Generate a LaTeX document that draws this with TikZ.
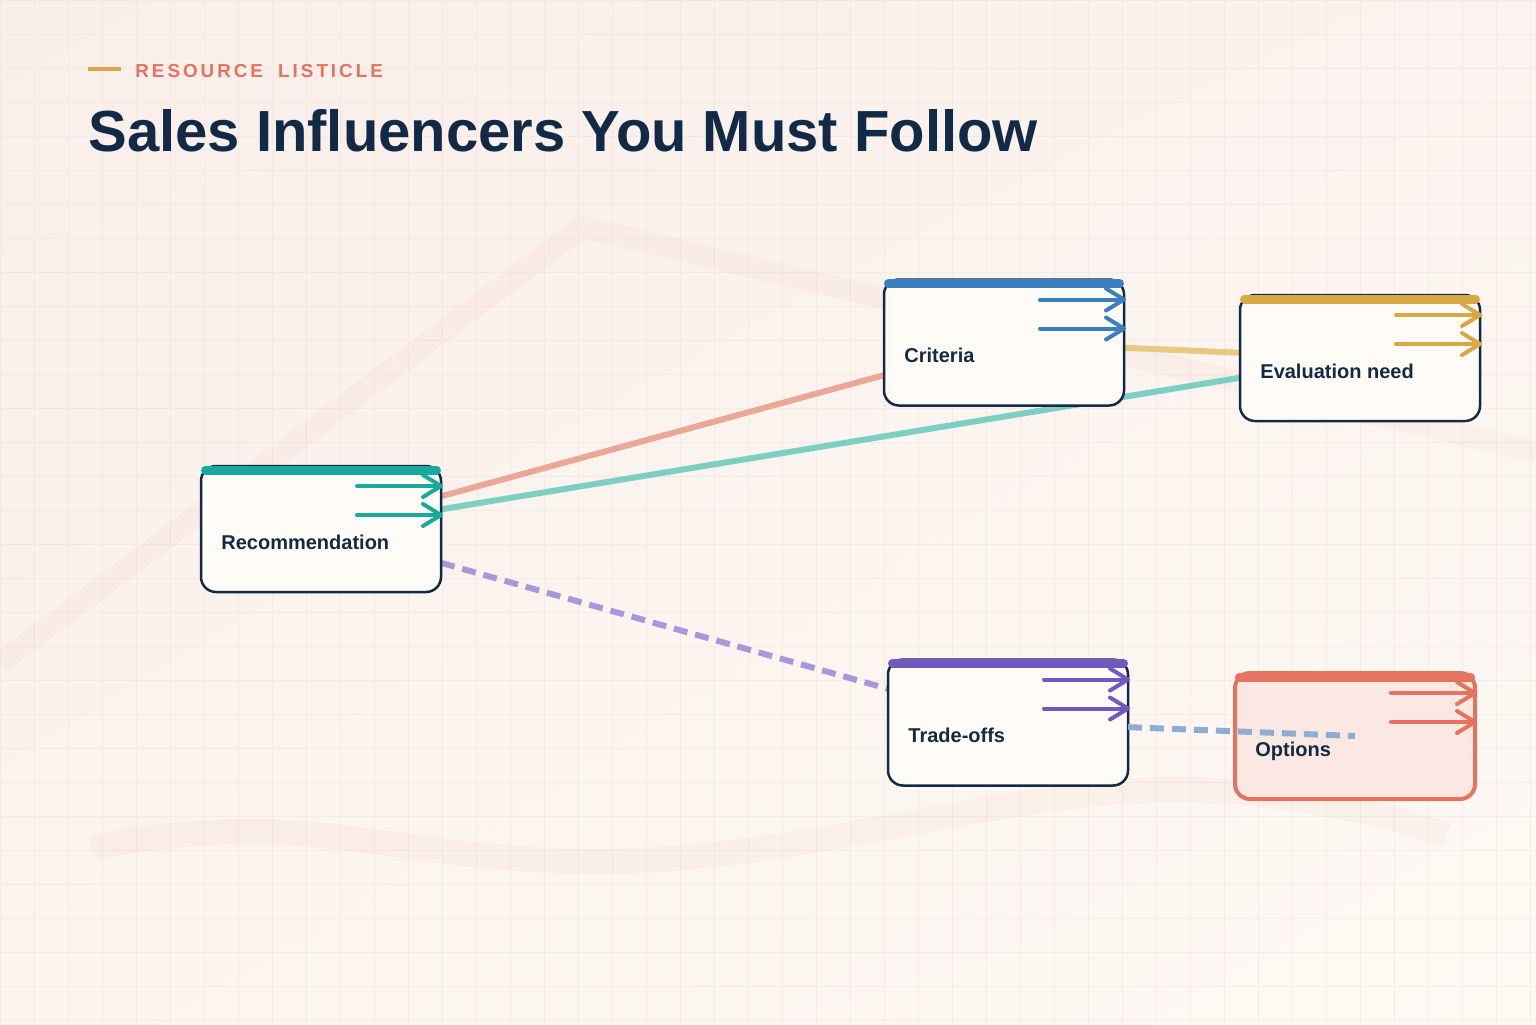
\documentclass[tikz,border=0pt]{standalone}
\usepackage{fontspec}
\setmainfont{Liberation Sans}
\newfontfamily\kickerfont[LetterSpace=16]{Liberation Sans}
\usetikzlibrary{arrows.meta,positioning,backgrounds,shadings}
\definecolor{ink}{RGB}{19,42,70}
\definecolor{paper}{RGB}{255,252,247}
\definecolor{teal}{RGB}{26,170,156}
\definecolor{ocean}{RGB}{59,127,192}
\definecolor{amber}{RGB}{216,168,68}
\definecolor{grape}{RGB}{113,89,192}
\definecolor{brick}{RGB}{228,115,95}
\definecolor{salmon}{RGB}{235,168,153}
\definecolor{mint}{RGB}{125,207,196}
\definecolor{straw}{RGB}{232,200,131}
\definecolor{lilac}{RGB}{168,152,218}
\definecolor{steel}{RGB}{142,173,211}
\definecolor{blush}{RGB}{251,232,227}
\definecolor{bgA}{RGB}{250,238,233}
\definecolor{bgB}{RGB}{251,243,239}
\definecolor{bgC}{RGB}{252,244,239}
\definecolor{bgD}{RGB}{253,250,244}
\definecolor{gridc}{RGB}{236,218,210}
\pgfdeclarelayer{paperlayer}
\pgfsetlayers{paperlayer,background,main}

\begin{document}
\begin{tikzpicture}[x=0.5pt,y=-0.5pt,
    card/.style={draw=ink,line width=1.25pt,rounded corners=7.5pt,fill=paper,
      minimum width=120pt,minimum height=63pt,outer sep=0pt,inner sep=0pt},
    cardtext/.style={font=\fontsize{10}{12}\selectfont\bfseries,text=ink,anchor=base west,inner sep=0pt},
    topbar/.style={line width=4.5pt,line cap=round},
    flow/.style={line width=2pt,line cap=round,-{Straight Barb[length=9pt,width=11pt,round]}},
    link/.style={line width=3pt},
    dashlink/.style={link,dash pattern=on 7pt off 4pt}]
  \useasboundingbox (0,0) rectangle (1536,1024);
  \begin{pgfonlayer}{paperlayer}
    \shade[upper left=bgA,upper right=bgB,lower left=bgC,lower right=bgD] (0,0) rectangle (1536,1024);
    \draw[gridc,opacity=0.35,line width=0.3pt] (0,0) grid[step=17pt] (1536,1024);
    \draw[brick,opacity=0.05,line width=11pt,line join=round] (0,663) -- (582,227) -- (1536,452);
    \draw[brick,opacity=0.05,line width=12.5pt] plot[smooth,tension=0.7]
      coordinates {(92,848) (271,832) (648,860) (1153,790) (1447,835)};
  \end{pgfonlayer}

  \draw[amber,line width=2pt] (88,69) -- (121,69);
  \node[anchor=base west,inner sep=0pt,text=brick,font=\kickerfont\fontsize{9.4}{11}\selectfont\bfseries] (kicker) at (135,77) {RESOURCE\hspace{3.5pt} LISTICLE};
  \node[anchor=base west,inner sep=0pt,text=ink,font=\fontsize{29}{34}\selectfont\bfseries] (title) at (88,151) {Sales Influencers You Must Follow};

  \node[card] (rec) at (321,529) {};
  \node[card] (crit) at (1004,342.5) {};
  \node[card] (eval) at (1360,358) {};
  \node[card] (trade) at (1008,722.5) {};
  \node[card,draw=brick,line width=2pt,fill=blush] (opt) at (1355,736) {};

  \foreach \n/\c in {rec/teal,crit/ocean,eval/amber,trade/grape,opt/brick}{
    \draw[topbar,\c] ([xshift=2.25pt,yshift=-2pt]\n.north west) -- ([xshift=-2.25pt,yshift=-2pt]\n.north east);
    \draw[flow,\c] ([xshift=-42pt,yshift=-10pt]\n.north east) -- ([xshift=1pt,yshift=-10pt]\n.north east);
    \draw[flow,\c] ([xshift=-42pt,yshift=-24.5pt]\n.north east) -- ([xshift=1pt,yshift=-24.5pt]\n.north east);
  }

  \node[cardtext] (rec-l) at ([xshift=10pt,yshift=-10pt]rec.west) {Recommendation};
  \node[cardtext] (crit-l) at ([xshift=10pt,yshift=-10pt]crit.west) {Criteria};
  \node[cardtext] (eval-l) at ([xshift=10pt,yshift=-10pt]eval.west) {Evaluation need};
  \node[cardtext] (trade-l) at ([xshift=10pt,yshift=-10pt]trade.west) {Trade-offs};
  \node[cardtext] (opt-l) at ([xshift=10pt,yshift=-10pt]opt.west) {Options};

  \begin{pgfonlayer}{background}
    \draw[link,salmon] (rec) -- (crit);
    \draw[link,mint] (rec) -- (eval);
    \draw[link,straw] (crit) -- (eval);
    \draw[dashlink,lilac] (rec) -- (trade);
  \end{pgfonlayer}
  \draw[dashlink,steel] (trade) -- (opt.center);
\end{tikzpicture}
\end{document}
